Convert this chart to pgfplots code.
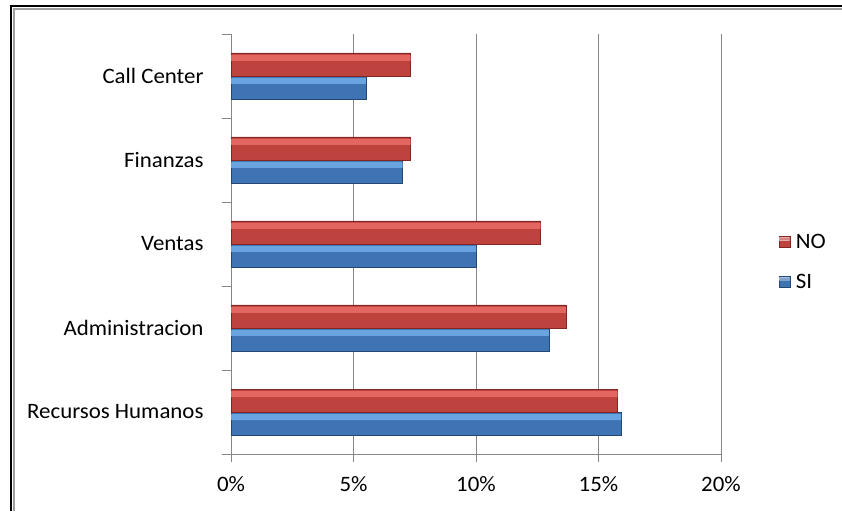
\documentclass[border=0pt]{standalone}
\usepackage{fontspec}
\setmainfont{Carlito}[FakeStretch=1.04]
\usepackage{pgfplots}
\pgfplotsset{compat=1.18}
\definecolor{gridgray}{RGB}{134,134,134}
\definecolor{redHi}{RGB}{238,112,106}
\definecolor{redMid}{RGB}{190,66,62}
\definecolor{redBot}{RGB}{128,38,36}
\definecolor{blueHi}{RGB}{116,176,236}
\definecolor{blueMid}{RGB}{62,116,180}
\definecolor{blueBot}{RGB}{38,70,115}
\pgfplotstableread{
y  si     no
0  15.92  15.78
1  12.97  13.67
2  10.00  12.64
3  7.00   7.33
4  5.51   7.33
}\datatable
\begin{document}
\begin{tikzpicture}[x=1pt,y=1pt]
\useasboundingbox (0,0) rectangle (842,511);
\fill[white] (0,0) rectangle (842,511);
\draw[gray!75, line width=2.5pt] (13.8,0) -- (13.8,502) -- (842,502);
\draw[black, line width=2.2pt] (11,0) -- (11,504.6) -- (842,504.6);
\begin{axis}[
    at={(231pt,57pt)}, anchor=south west,
    scale only axis, width=490pt, height=420pt,
    xbar, bar width=23pt,
    xmin=0, xmax=20, ymin=-0.5, ymax=4.5,
    xtick={0,5,...,20}, xticklabels={0\%,5\%,10\%,15\%,20\%},
    ytick={0,...,4},
    yticklabels={Recursos Humanos,Administracion,Ventas,Finanzas,Call Center},
    minor ytick={-0.5,0.5,...,4.5},
    axis x line*=bottom, axis y line*=left,
    axis line style={gridgray, line width=0.9pt},
    xmajorgrids, major grid style={gridgray, line width=0.9pt},
    tick align=outside,
    major tick style={gridgray, line width=0.9pt},
    minor tick style={gridgray, line width=0.9pt},
    major x tick style={/pgfplots/major tick length=8pt},
    major y tick style={/pgfplots/major tick length=0pt},
    minor tick length=9pt,
    tick label style={font=\fontsize{22}{26}\selectfont, text=black},
    yticklabel style={inner sep=0pt, xshift=-23pt},
    xticklabel style={inner sep=0pt, yshift=-18pt},
    legend style={at={(1.111,0.457)}, anchor=west, draw=none, fill=none,
        font=\fontsize{22}{26}\selectfont, row sep=22pt,
        nodes={inner sep=1pt}},
    legend cell align=left,
    reverse legend,
    legend image code/.code={\draw[#1] (0pt,-5.5pt) rectangle (11pt,5.5pt);
        \fill[white, opacity=0.35] (0.5pt,1.5pt) rectangle (10.5pt,5pt);
        \path[draw=none, fill=none] (16pt,0pt) circle[radius=0.1pt];},
]
\addplot[bar shift=-11.5pt, draw=blueBot, fill=blueMid] table[x=si, y=y] {\datatable};
\addplot[bar shift=11.5pt, draw=redBot, fill=redMid] table[x=no, y=y] {\datatable};
\legend{SI,NO}
% glossy highlight strips along the top of each bar
\addplot[forget plot, bar shift=-5pt, bar width=6pt, draw=none, fill=blueHi, fill opacity=0.8]
    table[x=si, y=y] {\datatable};
\addplot[forget plot, bar shift=18pt, bar width=6pt, draw=none, fill=redHi, fill opacity=0.8]
    table[x=no, y=y] {\datatable};
\end{axis}
\end{tikzpicture}
\end{document}
